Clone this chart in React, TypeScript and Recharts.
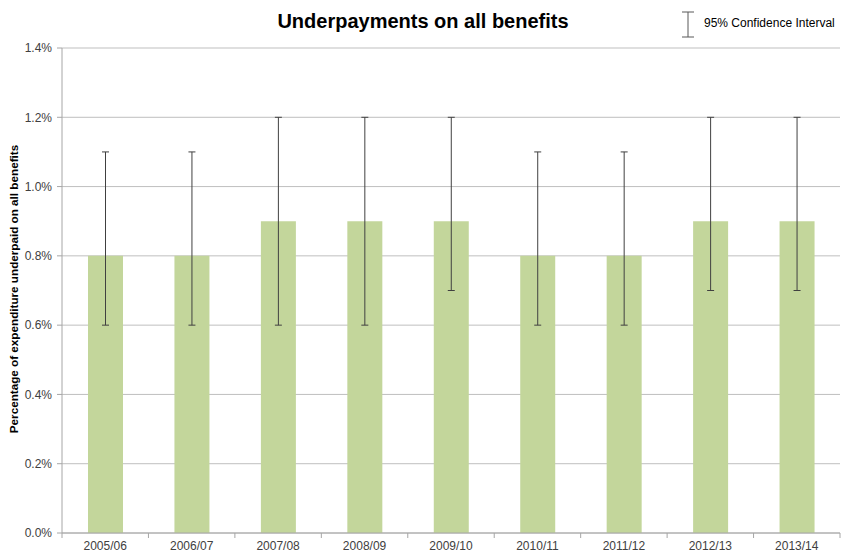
import { BarChart, Bar, XAxis, YAxis, CartesianGrid, ErrorBar } from 'recharts'

const years = ['2005/06', '2006/07', '2007/08', '2008/09', '2009/10', '2010/11', '2011/12', '2012/13', '2013/14']
const rates = [0.8, 0.8, 0.9, 0.9, 0.9, 0.8, 0.8, 0.9, 0.9]
const lower = [0.6, 0.6, 0.6, 0.6, 0.7, 0.6, 0.6, 0.7, 0.7]
const upper = [1.1, 1.1, 1.2, 1.2, 1.2, 1.1, 1.1, 1.2, 1.2]
const yTicks = [0, 0.2, 0.4, 0.6, 0.8, 1.0, 1.2, 1.4]

const W = 846
const H = 553
const LEFT = 62
const RIGHT = 6
const FONT = 'Arial, "Liberation Sans", sans-serif'

const chartData = years.map((year, i) => ({
    year,
    rate: rates[i],
    ci: [rates[i] - lower[i], upper[i] - rates[i]]
}))

// category labels sit in the middle, tick marks on the boundaries (Excel style)
const XTick = (props: any) => {
    const { x, y, payload, index } = props
    const step = (W - LEFT - RIGHT) / years.length
    const top = y - 8
    return (
        <g>
            <line x1={x - step / 2} x2={x - step / 2} y1={top} y2={top + 5} stroke="#a6a6a6" />
            {index === years.length - 1 && (
                <line x1={x + step / 2} x2={x + step / 2} y1={top} y2={top + 5} stroke="#a6a6a6" />
            )}
            <text x={x} y={top + 17} textAnchor="middle" fontSize={12} fill="#404040" fontFamily={FONT}>
                {payload.value}
            </text>
        </g>
    )
}

export default function App() {
    return (
        <div style={{ position: 'absolute', left: 0, top: 0, width: W, height: H, background: '#fff' }}>
            <BarChart width={W} height={H} data={chartData} margin={{ top: 48, right: RIGHT, bottom: 0, left: 0 }}>
                <CartesianGrid vertical={false} stroke="#bfbfbf" />
                <XAxis
                    dataKey="year"
                    height={20}
                    stroke="#a6a6a6"
                    tickLine={false}
                    tick={<XTick />}
                    interval={0}
                />
                <YAxis
                    width={LEFT}
                    domain={[0, 1.4]}
                    ticks={yTicks}
                    tickFormatter={(v: number) => v.toFixed(1) + '%'}
                    stroke="#a6a6a6"
                    tickSize={5}
                    tickMargin={5}
                    tick={{ fontSize: 12, fill: '#404040', fontFamily: FONT }}
                    allowDataOverflow
                />
                <Bar dataKey="rate" fill="#c3d69b" barSize={35} isAnimationActive={false}>
                    <ErrorBar dataKey="ci" width={3.5} stroke="#404040" strokeWidth={1} isAnimationActive={false} />
                </Bar>
            </BarChart>
            <svg width={W} height={H} style={{ position: 'absolute', left: 0, top: 0, pointerEvents: 'none' }}>
                <text x={423} y={28} textAnchor="middle" fontSize={20} fontWeight="bold" fill="#000" fontFamily={FONT}>
                    Underpayments on all benefits
                </text>
                <g stroke="#595959" strokeWidth={1}>
                    <line x1={688} x2={688} y1={12} y2={37} />
                    <line x1={682} x2={694} y1={12} y2={12} />
                    <line x1={682} x2={694} y1={37} y2={37} />
                </g>
                <text x={704} y={27} fontSize={12} fill="#000" fontFamily={FONT}>
                    95% Confidence Interval
                </text>
                <text
                    transform="translate(18, 289) rotate(-90)"
                    textAnchor="middle"
                    fontSize={11.7}
                    fontWeight="bold"
                    fill="#000"
                    fontFamily={FONT}
                >
                    Percentage of expenditure underpaid on all benefits
                </text>
            </svg>
        </div>
    )
}
